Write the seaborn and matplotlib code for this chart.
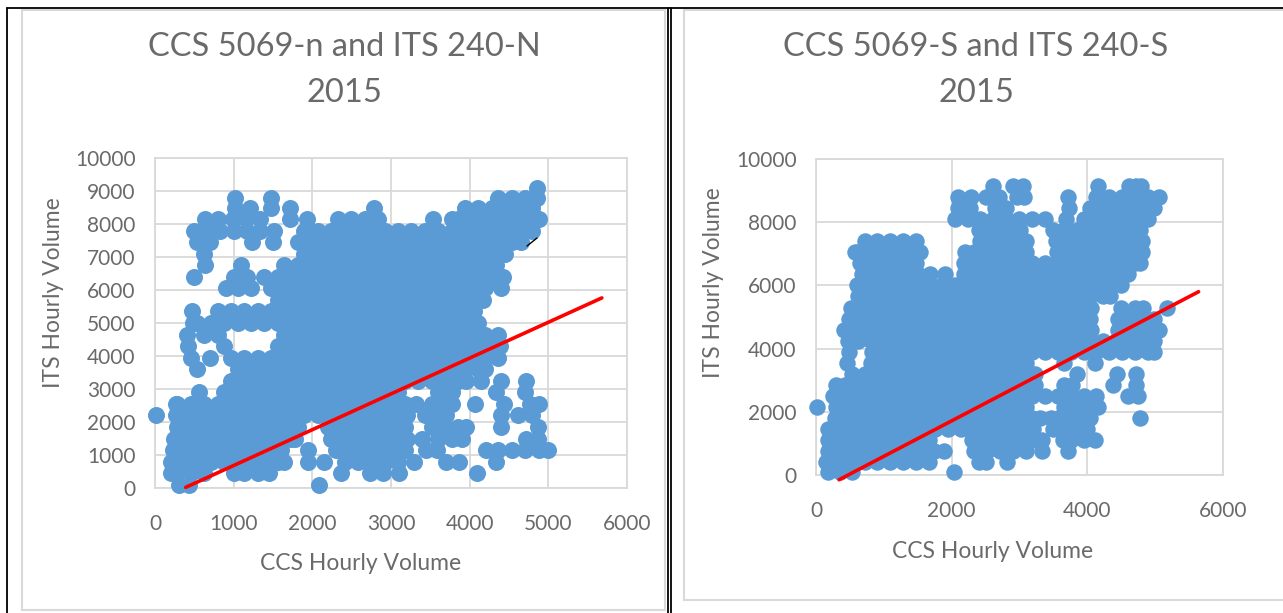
import numpy as np
import pandas as pd
import matplotlib
matplotlib.use("Agg")
import matplotlib.pyplot as plt
from matplotlib.lines import Line2D
import seaborn as sns

W, H = 1283, 613

titles = ["CCS 5069-n and ITS 240-N\n2015", "CCS 5069-S and ITS 240-S\n2015"]
x_label = "CCS Hourly Volume"
y_label = "ITS Hourly Volume"

trend_n_x = [390, 5680]
trend_n_y = [20, 5760]
trend_s_x = [340, 5640]
trend_s_y = [-150, 5800]
stray_x = [4729, 4856]
stray_y = [7333, 7575]

its_levels_n = [100, 450, 800, 1150, 1500, 1850, 2200, 2550, 2900, 3250, 3600, 3950, 4300, 4650,
                5000, 5350, 5700, 6050, 6400, 6750, 7100, 7450, 7800, 8150, 8500, 8800, 9100]
ccs_rows_n = [
    [300, 430, 2090],
    [200, 285, 455, 620, 1000, 1135, 1305, 1450, 2360, 2730, 2900, 3100, 4098],
    [200, 370, 540, 710, 880, 1050, 1220, 1390, 1560, 1640, 1950, 2143, 2410, 2580, 2750, 2920, 3090, 3290, 3700, 3860, 4340],
    [225, 285, 455, 625, 795, 965, 1135, 1305, 1475, 1600, 1950, 2300, 2495, 2665, 2835, 3005, 3175, 3450, 3590, 4205, 4365, 4535, 4705, 4875, 5000],
    [240, 370, 540, 710, 880, 1050, 1220, 1390, 1560, 1730, 1780, 2240, 2410, 2580, 2750, 2920, 3090, 3200, 3400, 3600, 3770, 3900, 4714, 4870],
    [285, 455, 625, 795, 965, 1135, 1305, 1475, 1645, 1815, 2200, 2325, 2495, 2665, 2835, 3005, 3175, 3515, 3685, 3855, 3950, 4393, 4870],
    [10, 270, 370, 540, 710, 880, 1050, 1220, 1390, 1560, 1730, 1900, 2070, 2240, 2410, 2580, 2750, 2920, 3090, 3200, 3430, 3600, 3700, 4395, 4620, 4790],
    [270, 285, 455, 625, 795, 965, 1135, 1305, 1475, 1645, 1815, 1985, 2155, 2325, 2495, 2665, 2835, 3005, 3175, 3320, 3515, 3685, 3780, 4071, 4440, 4770, 4880],
    [563, 880, 1050, 1220, 1390, 1560, 1730, 1900, 2070, 2240, 2410, 2580, 2750, 2920, 3090, 3600, 3770, 4340, 4700],
    [965, 1135, 1305, 1475, 1645, 1815, 1985, 2155, 2325, 2495, 2665, 2835, 3005, 3175, 3345, 3515, 3685, 3855, 3950, 4150, 4393, 4714],
    [536, 1050, 1220, 1390, 1560, 1730, 1900, 2070, 2240, 2410, 2580, 2750, 2920, 3090, 3260, 3430, 3600, 3770, 3940, 4110, 4200],
    [455, 696, 965, 1135, 1305, 1475, 1645, 1815, 1985, 2155, 2325, 2495, 2665, 2835, 3005, 3175, 3345, 3515, 3685, 3855, 4025, 4195, 4365],
    [420, 880, 1560, 1730, 1900, 2070, 2240, 2410, 2580, 2750, 2920, 3090, 3260, 3430, 3600, 3770, 3940, 4110, 4280, 4380],
    [410, 625, 795, 1645, 1815, 1985, 2155, 2325, 2495, 2665, 2835, 3005, 3175, 3345, 3515, 3685, 3855, 4025, 4195, 4365],
    [480, 540, 710, 880, 1050, 1220, 1390, 1560, 1730, 1900, 2070, 2240, 2410, 2580, 2750, 2920, 3090, 3260, 3430, 3600, 3770, 3940, 4110],
    [470, 795, 965, 1135, 1305, 1475, 1645, 1815, 1985, 2155, 2325, 2495, 2665, 2835, 3005, 3175, 3345, 3515, 3685, 3855, 4025, 4060],
    [1560, 1730, 1900, 2070, 2240, 2410, 2580, 2750, 2920, 3090, 3260, 3430, 3600, 3770, 3940, 4110, 4170],
    [900, 1060, 1225, 1475, 1645, 1815, 1985, 2155, 2325, 2495, 2665, 2835, 3005, 3175, 3345, 3515, 3685, 3855, 4025, 4195, 4393],
    [500, 1000, 1170, 1390, 1560, 1730, 1900, 2070, 2240, 2410, 2580, 2750, 2920, 3090, 3260, 3430, 3600, 3770, 3940, 4110, 4280, 4430],
    [640, 1098, 1645, 1815, 1985, 2155, 2325, 2495, 2665, 2835, 3005, 3175, 3345, 3515, 3685, 3855, 4025, 4195, 4340],
    [620, 1900, 2070, 2240, 2410, 2580, 2750, 2920, 3090, 3260, 3430, 3600, 3770, 3940, 4110, 4280, 4450],
    [530, 700, 1232, 1500, 1815, 1985, 2155, 2325, 2495, 2665, 2835, 3005, 3175, 3345, 3515, 3685, 3855, 4025, 4195, 4365, 4535, 4650],
    [490, 660, 830, 1000, 1170, 1340, 1510, 1900, 2070, 2240, 2410, 2580, 2750, 2920, 3090, 3260, 3430, 3600, 3770, 3940, 4110, 4280, 4450, 4620, 4790],
    [640, 800, 990, 1160, 1330, 1720, 1930, 2325, 2495, 2665, 2835, 3540, 3780, 3855, 4025, 4195, 4365, 4535, 4705, 4875],
    [1018, 1205, 1473, 1714, 2786, 3940, 4110, 4280, 4450, 4620, 4790],
    [1018, 1473, 4365, 4535, 4705, 4850],
    [4850],
]

its_levels_s = [100, 400, 750, 1100, 1450, 1800, 2150, 2500, 2850, 3200, 3550, 3900, 4250, 4600,
                4950, 5300, 5650, 6000, 6350, 6700, 7050, 7400, 7750, 8100, 8450, 8800, 9150]
ccs_rows_s = [
    [170, 350, 530, 2037],
    [145, 335, 525, 715, 905, 1095, 1285, 1475, 1665, 2400, 2500, 2820],
    [170, 240, 430, 620, 810, 1000, 1190, 1380, 1570, 1740, 1890, 2330, 2520, 2710, 2900, 3090, 3335, 3710],
    [170, 335, 525, 715, 905, 1095, 1285, 1475, 1665, 2300, 2425, 2615, 2805, 2995, 3185, 3335, 3640, 3755, 3945, 4120],
    [170, 240, 430, 620, 810, 1000, 1190, 1380, 1570, 1760, 1950, 2140, 2330, 2520, 2710, 2900, 3090, 3200, 3500, 3660, 3850, 4000],
    [280, 335, 525, 715, 905, 1095, 1285, 1475, 1665, 1855, 2045, 2235, 2425, 2615, 2805, 2995, 3185, 3300, 3460, 3565, 3755, 3945, 4040, 4780],
    [17, 300, 430, 620, 810, 1000, 1190, 1380, 1570, 1760, 1950, 2140, 2330, 2520, 2710, 2900, 3090, 3660, 3850, 4040, 4150],
    [250, 335, 525, 715, 905, 1095, 1285, 1475, 1665, 1855, 2045, 2235, 2425, 2615, 2805, 2995, 3185, 3375, 3565, 3755, 3945, 4135, 4600, 4750],
    [300, 430, 620, 810, 1000, 1190, 1380, 1570, 1760, 1950, 2140, 2330, 2520, 2710, 2900, 3090, 3230, 3660, 3780, 4374, 4720],
    [525, 715, 905, 1095, 1285, 1475, 1665, 1855, 2045, 2235, 2425, 2615, 2805, 2995, 3185, 3230, 3855, 4430, 4720],
    [450, 810, 1000, 1190, 1380, 1570, 1760, 1950, 2140, 2330, 2520, 2710, 2900, 3090, 3660, 4114],
    [480, 830, 905, 1095, 1285, 1475, 1665, 1855, 2045, 2235, 2425, 2615, 2805, 2995, 3185, 3375, 3565, 3755, 3945, 4135, 4325, 4515, 4705, 4895, 4980],
    [470, 620, 810, 1000, 1190, 1380, 1570, 1760, 1950, 2140, 2330, 2520, 2710, 2900, 3090, 3280, 3470, 3660, 3850, 4040, 4230, 4420, 4610, 4800, 4990],
    [410, 525, 715, 905, 1095, 1285, 1475, 1665, 1855, 2045, 2235, 2425, 2615, 2805, 2995, 3185, 3375, 3565, 3755, 3945, 4050, 4450, 4515, 4705, 4895, 5060],
    [480, 620, 810, 1000, 1190, 1380, 1570, 1760, 1950, 2140, 2330, 2520, 2710, 2900, 3090, 3280, 3470, 3660, 3850, 4040, 4450, 4610, 4800, 4990],
    [520, 715, 905, 1095, 1285, 1475, 1665, 1855, 2045, 2235, 2425, 2615, 2805, 2995, 3185, 3375, 3565, 3755, 3945, 4050, 4500, 4705, 4820, 5180],
    [620, 810, 1000, 1190, 1380, 1570, 1760, 1950, 2140, 2330, 2520, 2710, 2900, 3090, 3280, 3470, 3660, 3850, 4040, 4230, 4330],
    [600, 715, 905, 1095, 1285, 1475, 1665, 1855, 2045, 2235, 2425, 2615, 2805, 2995, 3185, 3375, 3565, 3755, 3945, 4135, 4325, 4500],
    [680, 810, 1000, 1190, 1380, 1500, 1680, 1900, 2180, 2330, 2520, 2710, 2900, 3090, 3280, 3470, 3660, 3850, 4040, 4230, 4420, 4600],
    [650, 715, 905, 1095, 1285, 1475, 2180, 2235, 2425, 2615, 2805, 2995, 3185, 3375, 3565, 3755, 3945, 4135, 4325, 4515, 4705, 4780],
    [570, 620, 810, 1000, 1190, 1380, 1540, 2190, 2330, 2520, 2710, 2900, 3090, 3560, 3660, 3850, 4040, 4230, 4420, 4610, 4800],
    [715, 905, 1095, 1285, 1475, 2425, 2615, 2805, 2995, 3100, 3540, 3755, 3945, 4135, 4325, 4515, 4705, 4800],
    [2400, 2520, 2710, 2900, 3000, 3500, 3660, 3850, 4040, 4230, 4420, 4610, 4780],
    [2045, 2235, 2425, 2615, 2805, 2995, 3185, 3375, 3680, 3945, 4135, 4325, 4515, 4705, 4895],
    [2100, 2270, 2640, 2800, 3730, 4040, 4230, 4420, 4610, 4800, 4990],
    [2090, 2280, 2500, 2700, 2960, 3060, 3710, 4135, 4325, 4515, 4705, 4895, 5060],
    [2615, 2900, 3050, 4150, 4620, 4720, 4790],
]

x_ticks_n = [0, 1000, 2000, 3000, 4000, 5000, 6000]
y_ticks_n = [0, 1000, 2000, 3000, 4000, 5000, 6000, 7000, 8000, 9000, 10000]
x_ticks_s = [0, 2000, 4000, 6000]
y_ticks_s = [0, 2000, 4000, 6000, 8000, 10000]

sns.set_theme(style="white")
plt.rcParams["font.family"] = ["Lato", "DejaVu Sans"]
TEXT = "#6a6a6a"
GRID = "#d9d9d9"
BLUE = "#5b9bd5"


def points(levels, rows):
    return pd.DataFrame({"ccs": np.concatenate(rows),
                         "its": np.repeat(levels, [len(r) for r in rows])})


def box(l, t, r, b):
    return [l / W, 1 - b / H, (r - l) / W, (b - t) / H]


def panel(fig, rect, levels, rows, tx, ty, xt, yt, title, title_x, xlab_px, ylab_px, msize):
    ax = fig.add_axes(box(*rect))
    sns.scatterplot(data=points(levels, rows), x="ccs", y="its", s=msize, color=BLUE,
                    linewidth=0, ax=ax, clip_on=False, zorder=3)
    sns.lineplot(x=tx, y=ty, color="#ff0000", linewidth=2.6, ax=ax, clip_on=False, zorder=4)
    ax.set_xlim(0, 6000)
    ax.set_ylim(0, 10000)
    ax.set_xticks(xt)
    ax.set_yticks(yt)
    ax.grid(True, color=GRID, linewidth=1.3)
    ax.set_axisbelow(True)
    for s in ax.spines.values():
        s.set_color(GRID)
        s.set_linewidth(1.3)
        s.set_zorder(1)
    ax.tick_params(axis="x", length=0, pad=19, labelsize=15, labelcolor=TEXT)
    ax.tick_params(axis="y", length=0, pad=14, labelsize=15, labelcolor=TEXT)
    ax.set_xlabel("")
    ax.set_ylabel("")
    fig.text(xlab_px[0] / W, 1 - xlab_px[1] / H, x_label, ha="center", va="center",
             fontsize=16.5, color=TEXT)
    fig.text(ylab_px[0] / W, 1 - ylab_px[1] / H, y_label, ha="center", va="center",
             rotation=90, fontsize=16.5, color=TEXT)
    fig.text(title_x / W, 1 - 70 / H, title, ha="center", va="center", fontsize=23.5,
             color=TEXT, linespacing=1.63)
    return ax


fig = plt.figure(figsize=(W / 100, H / 100), dpi=100, facecolor="white")

ax_n = panel(fig, (155, 158, 627, 488), its_levels_n, ccs_rows_n, trend_n_x, trend_n_y,
             x_ticks_n, y_ticks_n, titles[0], 344, (361, 563), (54, 293), 150)
sns.lineplot(x=stray_x, y=stray_y, color="black", linewidth=1, ax=ax_n, zorder=5)
panel(fig, (816, 159, 1223, 475), its_levels_s, ccs_rows_s, trend_s_x, trend_s_y,
      x_ticks_s, y_ticks_s, titles[1], 976, (993, 551), (713, 283), 141)


def rule(x0, y0, x1, y1, color, lw):
    fig.add_artist(Line2D([x0 / W, x1 / W], [1 - y0 / H, 1 - y1 / H], color=color, linewidth=lw))


for seg in [(22, 10, 22, 610), (22, 610, 665, 610), (665, 10, 665, 610),
            (684, 10, 684, 600), (684, 600, 1283, 600), (22, 10, 665, 10), (684, 10, 1283, 10)]:
    rule(*seg, GRID, 1.5)
for seg in [(7, 8, 1283, 8), (7, 8, 7, 613), (668, 8, 668, 613), (671, 8, 671, 613)]:
    rule(*seg, "black", 1.3)

fig.savefig("out.png", dpi=100)
